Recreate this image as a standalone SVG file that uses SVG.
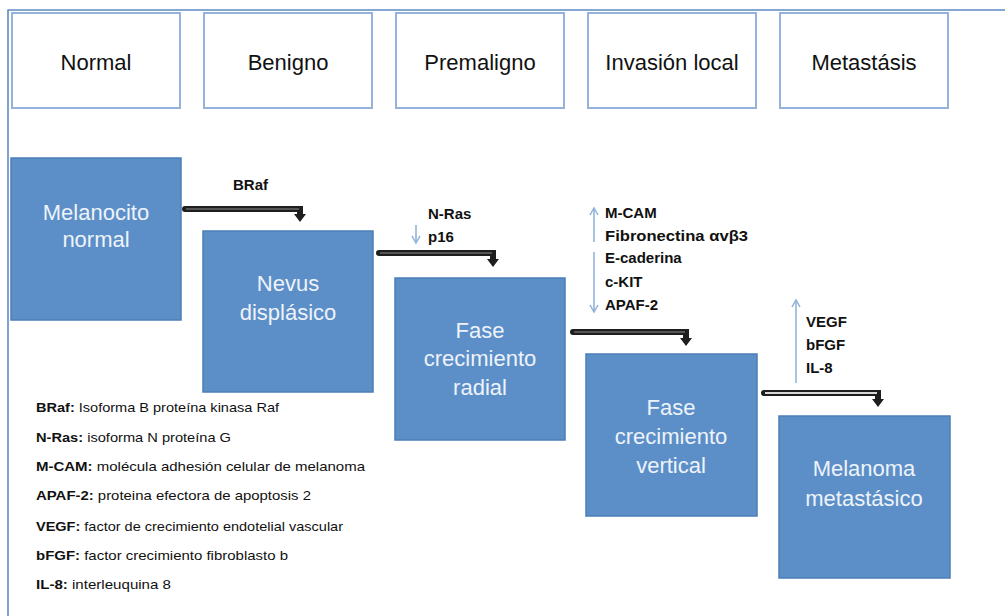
<svg xmlns="http://www.w3.org/2000/svg" width="1005" height="616" viewBox="0 0 1005 616">
<defs>
<style>
.frame{fill:none;stroke:#5f8bc3;stroke-width:1.6}
.stage{fill:#ffffff;stroke:#93b3dc;stroke-width:2}
.stageT{font-family:"Liberation Sans",Arial,sans-serif;font-size:22px;fill:#111;text-anchor:middle}
.cell{fill:#5c8fc8;stroke:#4b7db8;stroke-width:1.5}
.cellT{font-family:"Liberation Sans",Arial,sans-serif;font-size:22px;fill:#eef3fa;text-anchor:middle}
.lab{font-family:"Liberation Sans",Arial,sans-serif;font-size:15px;font-weight:bold;fill:#111}
.leg{font-family:"Liberation Sans",Arial,sans-serif;font-size:13.5px;fill:#111}
.legB{font-weight:bold}
.thickO{fill:none;stroke:#1e1e1e;stroke-width:6;stroke-linecap:round;stroke-linejoin:miter}
.thickI{fill:none;stroke:#555555;stroke-width:2}
.thickIw{fill:none;stroke:#d8d8d8;stroke-width:2}
.head{fill:#1e1e1e}
.thin{fill:none;stroke:#8db0d9;stroke-width:1.5}
</style>
<marker id="tip" markerWidth="10" markerHeight="10" refX="8" refY="5" orient="auto" markerUnits="userSpaceOnUse">
<path d="M1,1 L8,5 L1,9" fill="none" stroke="#8db0d9" stroke-width="1.5"/>
</marker>
</defs>
<rect width="1005" height="616" fill="#ffffff"/>
<path class="frame" d="M8,616 V10 H1005"/>

<g id="stage-normal"><rect class="stage" x="12" y="13" width="168" height="95"/><text class="stageT" x="96" y="70">Normal</text></g>
<g id="stage-benigno"><rect class="stage" x="204" y="13" width="168" height="95"/><text class="stageT" x="288" y="70">Benigno</text></g>
<g id="stage-premaligno"><rect class="stage" x="396" y="13" width="168" height="95"/><text class="stageT" x="480" y="70">Premaligno</text></g>
<g id="stage-invasion"><rect class="stage" x="588" y="13" width="168" height="95"/><text class="stageT" x="672" y="70">Invasión local</text></g>
<g id="stage-metastasis"><rect class="stage" x="780" y="13" width="168" height="95"/><text class="stageT" x="864" y="70">Metastásis</text></g>

<g id="melanocito"><rect class="cell" x="11" y="158" width="170" height="162"/><text class="cellT" x="96" y="220">Melanocito</text><text class="cellT" x="96" y="247">normal</text></g>
<g id="nevus"><rect class="cell" x="203" y="231" width="170" height="161"/><text class="cellT" x="288" y="291">Nevus</text><text class="cellT" x="288" y="320">displásico</text></g>
<g id="radial"><rect class="cell" x="395" y="278" width="170" height="162"/><text class="cellT" x="480" y="338">Fase</text><text class="cellT" x="480" y="366">crecimiento</text><text class="cellT" x="480" y="395">radial</text></g>
<g id="vertical"><rect class="cell" x="586" y="354" width="171" height="162"/><text class="cellT" x="671" y="415">Fase</text><text class="cellT" x="671" y="444">crecimiento</text><text class="cellT" x="671" y="473">vertical</text></g>
<g id="melanoma"><rect class="cell" x="779" y="416" width="171" height="162"/><text class="cellT" x="864" y="476">Melanoma</text><text class="cellT" x="864" y="506">metastásico</text></g>

<g id="connectors">
<path class="thickO" d="M185,209 H300 V214"/><path class="thickI" d="M186,209 H299"/><polygon class="head" points="294,214 306,214 300,222"/>
<path class="thickO" d="M379,253 H493 V259"/><path class="thickI" d="M380,253 H492"/><polygon class="head" points="487,259 499,259 493,267"/>
<path class="thickO" d="M573,332 H686 V338"/><path class="thickI" d="M574,332 H685"/><polygon class="head" points="680,338 692,338 686,346"/>
<path class="thickO" d="M764,393 H878 V399"/><path class="thickIw" d="M765,393 H877"/><polygon class="head" points="872,399 884,399 878,407"/>
<line class="thin" x1="416" y1="225" x2="416" y2="243" marker-end="url(#tip)"/>
<line class="thin" x1="594" y1="242" x2="594" y2="208" marker-end="url(#tip)"/>
<line class="thin" x1="594" y1="252" x2="594" y2="312" marker-end="url(#tip)"/>
<line class="thin" x1="796" y1="383" x2="796" y2="300" marker-end="url(#tip)"/>
</g>

<g id="labels">
<text class="lab" x="233" y="190">BRaf</text>
<text class="lab" x="428" y="219">N-Ras</text>
<text class="lab" x="428" y="242">p16</text>
<text class="lab" x="605" y="218">M-CAM</text>
<text class="lab" x="605" y="241" textLength="143" lengthAdjust="spacingAndGlyphs">Fibronectina αvβ3</text>
<text class="lab" x="605" y="263">E-caderina</text>
<text class="lab" x="605" y="287">c-KIT</text>
<text class="lab" x="605" y="310">APAF-2</text>
<text class="lab" x="806" y="327">VEGF</text>
<text class="lab" x="806" y="350">bFGF</text>
<text class="lab" x="806" y="373">IL-8</text>
</g>

<g id="legend">
<text class="leg" x="36" y="412" textLength="243" lengthAdjust="spacingAndGlyphs"><tspan class="legB">BRaf:</tspan> Isoforma B proteína kinasa Raf</text>
<text class="leg" x="36" y="442" textLength="195" lengthAdjust="spacingAndGlyphs"><tspan class="legB">N-Ras:</tspan> isoforma N proteína G</text>
<text class="leg" x="36" y="471" textLength="329" lengthAdjust="spacingAndGlyphs"><tspan class="legB">M-CAM:</tspan> molécula adhesión celular de melanoma</text>
<text class="leg" x="36" y="500" textLength="275" lengthAdjust="spacingAndGlyphs"><tspan class="legB">APAF-2:</tspan> proteina efectora de apoptosis 2</text>
<text class="leg" x="36" y="531" textLength="307" lengthAdjust="spacingAndGlyphs"><tspan class="legB">VEGF:</tspan> factor de crecimiento endotelial vascular</text>
<text class="leg" x="36" y="560" textLength="252" lengthAdjust="spacingAndGlyphs"><tspan class="legB">bFGF:</tspan> factor crecimiento fibroblasto b</text>
<text class="leg" x="36" y="589" textLength="135" lengthAdjust="spacingAndGlyphs"><tspan class="legB">IL-8:</tspan> interleuquina 8</text>
</g>
</svg>
